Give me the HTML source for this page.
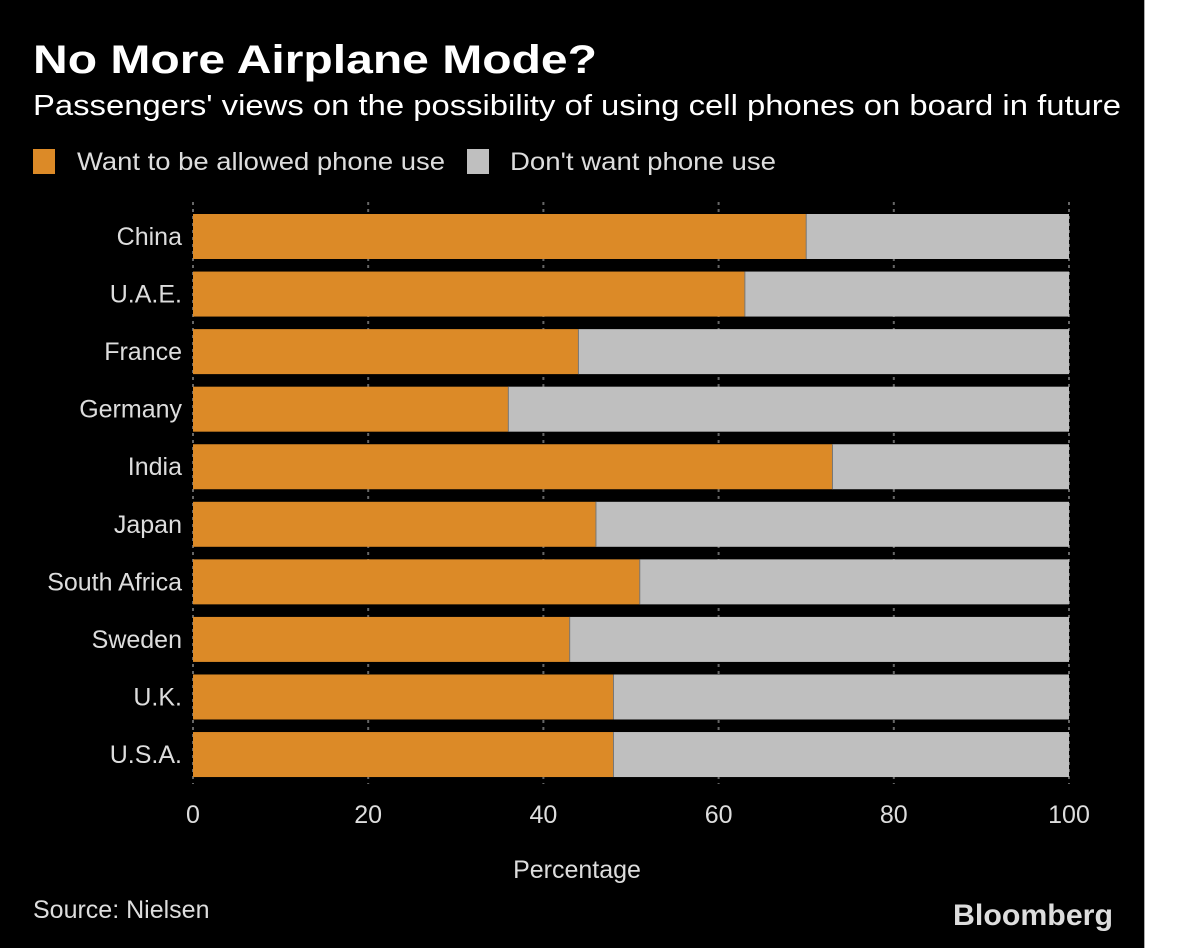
<!DOCTYPE html>
<html><head><meta charset="utf-8"><style>
html,body{margin:0;padding:0;background:#fff;}
svg{display:block;font-family:"Liberation Sans",sans-serif;}
</style></head><body>
<svg width="1200" height="948">
<rect x="0" y="0" width="1144" height="948" fill="#000"/>
<line x1="1144.5" y1="0" x2="1144.5" y2="948" stroke="#aaa"/>
<text x="33" y="73" font-size="40" font-weight="bold" fill="#fff" textLength="564" lengthAdjust="spacingAndGlyphs">No More Airplane Mode?</text>
<text x="33" y="115" font-size="29" fill="#fff" textLength="1088" lengthAdjust="spacingAndGlyphs">Passengers' views on the possibility of using cell phones on board in future</text>
<g>
<rect x="33" y="149" width="22" height="25" fill="#dc8a27"/>
<text x="77" y="170" font-size="25" fill="#ddd" textLength="368" lengthAdjust="spacingAndGlyphs">Want to be allowed phone use</text>
<rect x="467" y="149" width="22" height="25" fill="#bfbfbf"/>
<text x="510" y="170" font-size="25" fill="#ddd" textLength="266" lengthAdjust="spacingAndGlyphs">Don't want phone use</text>
</g>
<g id="plot"></g>
<text x="577" y="878" font-size="25" fill="#ddd" text-anchor="middle">Percentage</text>
<text x="33" y="918" font-size="25" fill="#ddd">Source: Nielsen</text>
<text x="953" y="925" font-size="30" font-weight="bold" fill="#ddd" textLength="160" lengthAdjust="spacingAndGlyphs">Bloomberg</text>
</svg>
<script>
const categories=["China","U.A.E.","France","Germany","India","Japan","South Africa","Sweden","U.K.","U.S.A."];
const wantValues=[70,63,44,36,73,46,51,43,48,48];
const tickValues=[0,20,40,60,80,100];
const NS="http://www.w3.org/2000/svg";
const g=document.getElementById('plot');
const x=v=>193+v*8.76;
const yTop=i=>214+i*57.56;
function mk(t,a){const e=document.createElementNS(NS,t);for(const k in a)e.setAttribute(k,a[k]);g.appendChild(e);return e;}
tickValues.forEach(t=>{
 const l=mk('line',{x1:x(t),x2:x(t),y1:202,y2:784,stroke:'#666','stroke-width':2,'stroke-dasharray':'3 4'});
 
 
 const tx=mk('text',{x:x(t),y:823,'font-size':25,fill:'#ddd','text-anchor':'middle'});
 tx.textContent=t;
 
 
});
categories.forEach((c,i)=>{
 const y=yTop(i),v=wantValues[i];
 const a=mk('rect',{x:x(0),y:y,width:x(v)-x(0),height:45,fill:'#dc8a27'});
 
 
 const b=mk('rect',{x:x(v),y:y,width:x(100)-x(v),height:45,fill:'#bfbfbf'});
 
 
 const s=mk('line',{x1:x(v),x2:x(v),y1:y,y2:y+45,stroke:'#777','stroke-width':1});
 
 
 const t=mk('text',{x:182,y:y+31,'font-size':25,fill:'#ddd','text-anchor':'end'});
 t.textContent=c;
 
 
});
</script>
</body></html>
